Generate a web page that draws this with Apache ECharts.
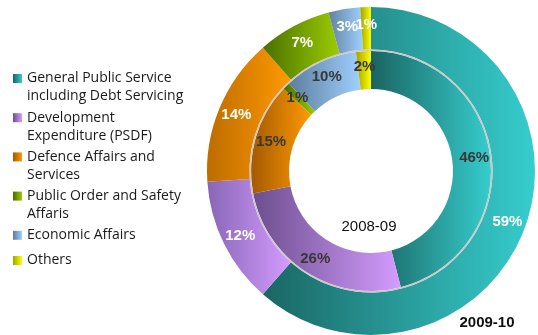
<!DOCTYPE html>
<html>
<head>
<meta charset="utf-8">
<script src="https://cdn.jsdelivr.net/npm/echarts@6/dist/echarts.min.js"></script>
<style>html,body{margin:0;padding:0;background:#fff;}#c{width:538px;height:335px;}</style>
</head>
<body>
<div id="c"></div>
<script>
// ---- data ----
const categories = [
  'General Public Service\nincluding Debt Servicing',
  'Development\nExpenditure (PSDF)',
  'Defence Affairs and\nServices',
  'Public Order and Safety\nAffaris',
  'Economic Affairs',
  'Others'
];
const values2008 = [46, 26, 15, 1, 10, 2];   // inner ring (2008-09)
const values2009 = [59, 12, 14, 7, 3, 1];    // outer ring (2009-10)
const ringLabels = ['2008-09', '2009-10'];

// ---- styles ----
const darkInner  = ['#1a6461', '#6c4e8e', '#a35a00', '#476c00', '#5d7d9d', '#a3a300'];
const darkOuter  = ['#1a6663', '#8866b6', '#bd6c00', '#4a7000', '#62829f', '#a3a300'];
const lightColors = ['#36cdcd', '#d49cff', '#ff9a00', '#9ccc00', '#9fd0ff', '#ffff00'];

function grad(dark, i) {
  return {
    type: 'linear', x: 0, y: 0, x2: 1, y2: 0,
    colorStops: [{offset: 0, color: dark[i]}, {offset: 1, color: lightColors[i]}]
  };
}

const iconTwoLine = 'path://M0,4.5h9v9h-9z M0,0 M9,36';
const iconOneLine = 'path://M0,0h9v9h-9z';
const iconLast = 'path://M0,8.5h9v9h-9z M0,0 M9,26';

const legendData = categories.map(function (n, i) {
  let icon = n.indexOf('\n') >= 0 ? iconTwoLine : (i === categories.length - 1 ? iconLast : iconOneLine);
  return {name: n, icon: icon};
});

function makeData(vals, dark) {
  return vals.map(function (v, i) {
    return {name: categories[i], value: v, itemStyle: {color: grad(dark, i)}};
  });
}

const center = [371, 171];

const option = {
  animation: false,
  legend: {
    orient: 'vertical',
    left: 13,
    top: 69.5,
    padding: 0,
    itemWidth: 9,
    itemHeight: 36,
    itemGap: 3.2,
    selectedMode: false,
    itemStyle: {borderWidth: 0},
    textStyle: {fontFamily: 'Open Sans', fontSize: 14, color: '#1a1a1a', lineHeight: 18},
    data: legendData
  },
  series: [
    {
      type: 'pie',
      name: ringLabels[0],
      center: center,
      radius: [82, 120],
      startAngle: 90,
      clockwise: true,
      silent: true,
      itemStyle: {borderWidth: 0},
      labelLayout: {hideOverlap: false},
      label: {
        show: true, position: 'inside', formatter: '{c}%',
        fontFamily: 'Liberation Sans', fontWeight: 'bold', fontSize: 15, color: '#383838'
      },
      labelLine: {show: false},
      data: makeData(values2008, darkInner)
    },
    {
      type: 'pie',
      name: ringLabels[1],
      center: center,
      radius: [121.5, 164],
      startAngle: 90,
      clockwise: true,
      silent: true,
      avoidLabelOverlap: false,
      minShowLabelAngle: 0,
      itemStyle: {borderWidth: 0},
      labelLayout: {hideOverlap: false},
      label: {
        show: true, position: 'inside', formatter: '{c}%',
        fontFamily: 'Liberation Sans', fontWeight: 'bold', fontSize: 15, color: '#ffffff'
      },
      labelLine: {show: false},
      data: makeData(values2009, darkOuter)
    },
    {
      type: 'pie',
      center: center,
      radius: [120, 121.5],
      silent: true,
      label: {show: false},
      labelLine: {show: false},
      itemStyle: {borderWidth: 0},
      data: [{value: 1, name: 'separator', itemStyle: {color: '#cdc6c6'}}]
    }
  ],
  graphic: [
    {
      type: 'text', x: 369, y: 227,
      style: {text: ringLabels[0], fill: '#111', font: '15px "Liberation Sans"', align: 'center', verticalAlign: 'middle'}
    },
    {
      type: 'text', x: 487, y: 323,
      style: {text: ringLabels[1], fill: '#111', font: 'bold 15px "Liberation Sans"', align: 'center', verticalAlign: 'middle'}
    }
  ]
};

const chart = echarts.init(document.getElementById('c'), null, {renderer: 'canvas'});
chart.setOption(option);
</script>
</body>
</html>
